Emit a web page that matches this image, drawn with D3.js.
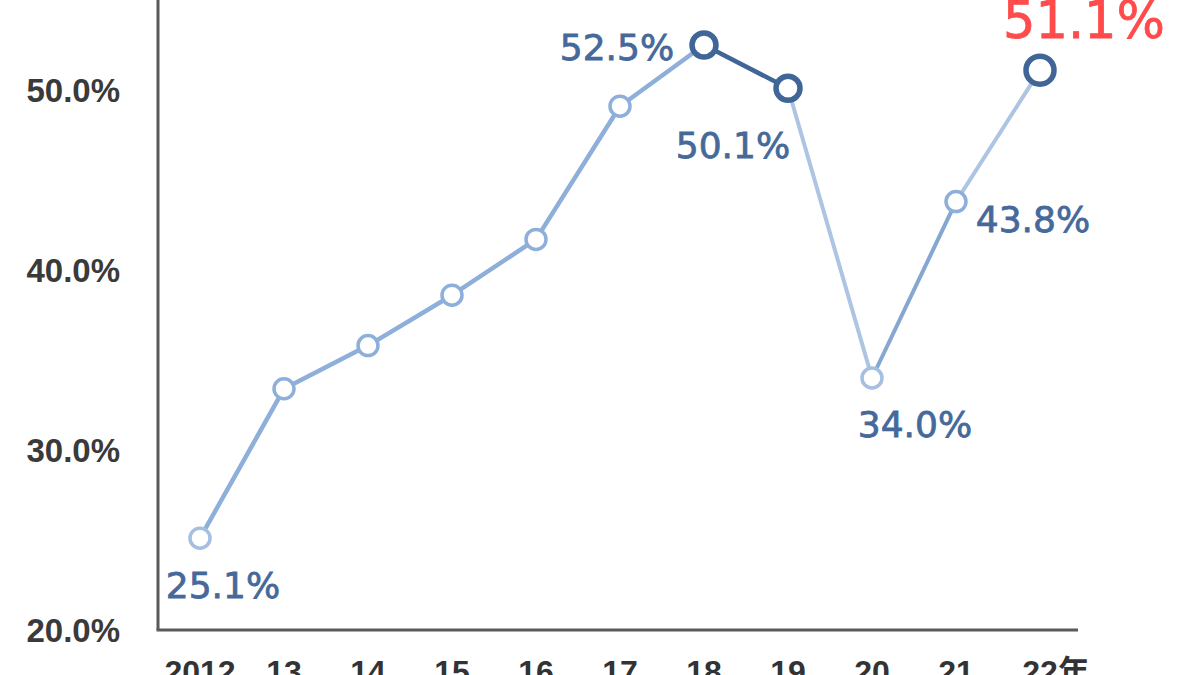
<!DOCTYPE html>
<html>
<head>
<meta charset="utf-8">
<script src="https://cdn.jsdelivr.net/npm/d3@7"></script>
<style>
  body { margin: 0; background: #fff; }
  #chart { width: 1200px; height: 675px; overflow: hidden; }
</style>
</head>
<body>
<div id="chart"></div>
<script>
// Data
let years = ['2012', '13', '14', '15', '16', '17', '18', '19', '20', '21', '22年'];
let rates = [25.1, 33.4, 35.8, 38.6, 41.7, 49.1, 52.5, 50.1, 34.0, 43.8, 51.1];
let yTicks = [20, 30, 40, 50];
// which points get a printed value
let labelled = ['2012', '18', '19', '20', '21', '22年'];

let width = 1200;
let height = 675;
let margin = {top: 0, right: 122, bottom: 45, left: 158};

let svg = d3.select('#chart')
    .append('svg')
    .attr('width', width)
    .attr('height', height);

// Scales
let x = d3.scalePoint()
    .domain(years)
    .range([200, 1040]);

let y = d3.scaleLinear()
    .domain([20, 55])
    .range([height - margin.bottom, height - margin.bottom - 35 * 18]);

// Axes lines
svg.append('line')
    .attr('x1', margin.left).attr('x2', margin.left)
    .attr('y1', 0).attr('y2', y(20))
    .attr('stroke', '#5a5a5a').attr('stroke-width', 3);

svg.append('line')
    .attr('x1', margin.left - 1.5).attr('x2', 1078)
    .attr('y1', y(20)).attr('y2', y(20))
    .attr('stroke', '#5a5a5a').attr('stroke-width', 3);

// Y tick labels
svg.selectAll('.ytick')
    .data(yTicks)
    .enter()
    .append('text')
    .attr('class', 'ytick')
    .attr('x', 120)
    .attr('y', d => y(d) + 12)
    .attr('text-anchor', 'end')
    .attr('font-family', 'Liberation Sans, Arial, sans-serif')
    .attr('font-weight', 'bold')
    .attr('font-size', '33px')
    .attr('fill', '#3a3a3a')
    .text(d => d.toFixed(1) + '%');

// X tick labels (the bottom edge crops them, as in the source image)
svg.selectAll('.xtick')
    .data(years)
    .enter()
    .append('text')
    .attr('class', 'xtick')
    .attr('x', d => x(d) + (d === '22年' ? 16 : 0))
    .attr('y', 683)
    .attr('text-anchor', 'middle')
    .attr('font-family', 'Liberation Sans, Noto Sans CJK JP, sans-serif')
    .attr('font-weight', 'bold')
    .attr('font-size', '32px')
    .attr('fill', '#333')
    .text(d => d);

// Line segments, each with its own tone
let segColor = ['#8eafd9', '#8eafd9', '#8eafd9', '#8eafd9', '#8eafd9', '#8eafd9', '#3f6696', '#adc4e2', '#86a7d2', '#adc4e2'];
let segWidth = [4.5, 4.5, 4.5, 4.5, 4.5, 4.5, 4.5, 4, 4, 4];

let points = years.map((d, i) => ({year: d, value: rates[i]}));

svg.selectAll('.seg')
    .data(d3.pairs(points))
    .enter()
    .append('line')
    .attr('class', 'seg')
    .attr('x1', d => x(d[0].year))
    .attr('y1', d => y(d[0].value))
    .attr('x2', d => x(d[1].year))
    .attr('y2', d => y(d[1].value))
    .attr('stroke', (d, i) => segColor[i])
    .attr('stroke-width', (d, i) => segWidth[i])
    .attr('stroke-linecap', 'round');

// Markers
let bigMarks = ['18', '19', '22年'];
svg.selectAll('.mark')
    .data(points)
    .enter()
    .append('circle')
    .attr('class', 'mark')
    .attr('cx', d => x(d.year))
    .attr('cy', d => y(d.value))
    .attr('r', d => d.year === '22年' ? 14 : (bigMarks.includes(d.year) ? 12 : 10))
    .attr('fill', '#fff')
    .attr('stroke', d => bigMarks.includes(d.year) ? '#3f6696' : (d.year === '2012' || d.year === '20' ? '#a5bfe0' : '#8eafd9'))
    .attr('stroke-width', d => bigMarks.includes(d.year) ? 5.5 : 3.5);

// Value labels: offsets relative to each point
let labelDx = {'2012': 23, '18': -87, '19': -55, '20': 43, '21': 77, '22年': 44};
let labelDy = {'2012': 60, '18': 15, '19': 70, '20': 59, '21': 30, '22年': -32};

svg.selectAll('.vlabel')
    .data(points.filter(d => labelled.includes(d.year)))
    .enter()
    .append('text')
    .attr('class', 'vlabel')
    .attr('x', d => x(d.year) + labelDx[d.year])
    .attr('y', d => y(d.value) + labelDy[d.year])
    .attr('text-anchor', 'middle')
    .attr('font-family', 'DejaVu Sans, sans-serif')
    .attr('font-size', d => d.year === '22年' ? '51px' : '36px')
    .attr('fill', d => d.year === '22年' ? '#ff4b4b' : '#46699b')
    .attr('stroke', d => d.year === '22年' ? '#ff4b4b' : '#46699b')
    .attr('stroke-width', 0.8)
    .text(d => d.value.toFixed(1) + '%');
</script>
</body>
</html>
